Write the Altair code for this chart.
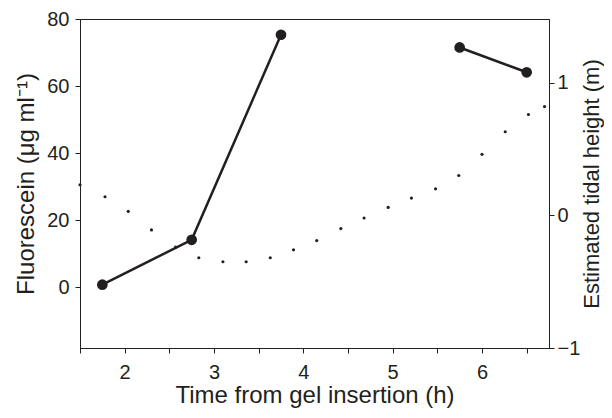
import altair as alt
import pandas as pd

# Fluorescein concentration (left axis); segment splits the line where samples are missing
fluor_time = [1.75, 2.75, 3.75, 5.75, 6.5]
fluor_value = [0.7, 14.1, 75.3, 71.5, 64.1]
fluor_segment = ["a", "a", "a", "b", "b"]

# Estimated tidal height (right axis)
tide_time = [1.50, 1.78, 2.04, 2.30, 2.57, 2.83, 3.10, 3.36, 3.63, 3.89, 4.15,
             4.42, 4.68, 4.95, 5.21, 5.48, 5.74, 6.00, 6.26, 6.52, 6.70]
tide_height = [0.23, 0.14, 0.03, -0.11, -0.24, -0.32, -0.35, -0.35, -0.32, -0.26, -0.19,
               -0.10, -0.02, 0.06, 0.13, 0.20, 0.30, 0.46, 0.63, 0.76, 0.82]

x_ticks = [1.5, 2, 2.5, 3, 3.5, 4, 4.5, 5, 5.5, 6, 6.5]
left_ticks = [0, 20, 40, 60, 80]
right_ticks = [-1, 0, 1]

fluor_df = pd.DataFrame({"time": fluor_time, "value": fluor_value, "segment": fluor_segment})
tide_df = pd.DataFrame({"time": tide_time, "height": tide_height})

FONT = "Liberation Sans"
INK = "#231f20"

xscale = alt.Scale(domain=[1.5, 6.75], nice=False, zero=False)


def xaxis():
    return alt.Axis(
        title="Time from gel insertion (h)",
        values=x_ticks,
        labelExpr="datum.value % 1 == 0 ? format(datum.value, 'd') : ''",
        grid=False,
        tickSize=5,
        labelPadding=9,
        titlePadding=1,
        titleFontSize=24,
    )


tide = alt.Chart(tide_df).mark_circle(size=10, color=INK, opacity=1).encode(
    x=alt.X("time:Q", scale=xscale, axis=xaxis()),
    y=alt.Y(
        "height:Q",
        scale=alt.Scale(domain=[-1, 1.48], nice=False, zero=False),
        axis=alt.Axis(
            orient="right",
            title="Estimated tidal height (m)",
            values=right_ticks,
            grid=False,
            tickSize=5,
            labelPadding=3,
            titleAngle=270,
            titleBaseline="top",
            titlePadding=2,
            titleFontSize=22,
        ),
    ),
)

fluor_y = alt.Y(
    "value:Q",
    scale=alt.Scale(domain=[-18.2, 80], nice=False, zero=False),
    axis=alt.Axis(
        orient="left",
        title="Fluorescein (μg ml⁻¹)",
        values=left_ticks,
        grid=False,
        tickSize=5,
        labelPadding=6,
        titlePadding=8,
        titleFontSize=24,
    ),
)

fluor_line = alt.Chart(fluor_df).mark_line(color=INK, strokeWidth=2.5).encode(
    x=alt.X("time:Q", scale=xscale, axis=xaxis()),
    y=fluor_y,
    detail="segment:N",
)

fluor_points = alt.Chart(fluor_df).mark_circle(size=115, color=INK, opacity=1).encode(
    x=alt.X("time:Q", scale=xscale, axis=xaxis()),
    y=fluor_y,
)

chart = (
    alt.layer(tide, fluor_line + fluor_points)
    .resolve_scale(y="independent")
    .properties(
        width=469,
        height=329,
        autosize=alt.AutoSizeParams(type="none"),
        padding={"left": 72, "top": 11, "right": 55, "bottom": 62},
        background="white",
    )
    .configure_view(stroke=INK, strokeWidth=1)
    .configure_axis(
        domainColor=INK,
        tickColor=INK,
        labelColor=INK,
        titleColor=INK,
        labelFont=FONT,
        titleFont=FONT,
        labelFontSize=20,
        titleFontWeight="normal",
        domainWidth=1,
        tickWidth=1,
    )
)

chart.save("out.html", embed_options={"renderer": "svg", "actions": False})
